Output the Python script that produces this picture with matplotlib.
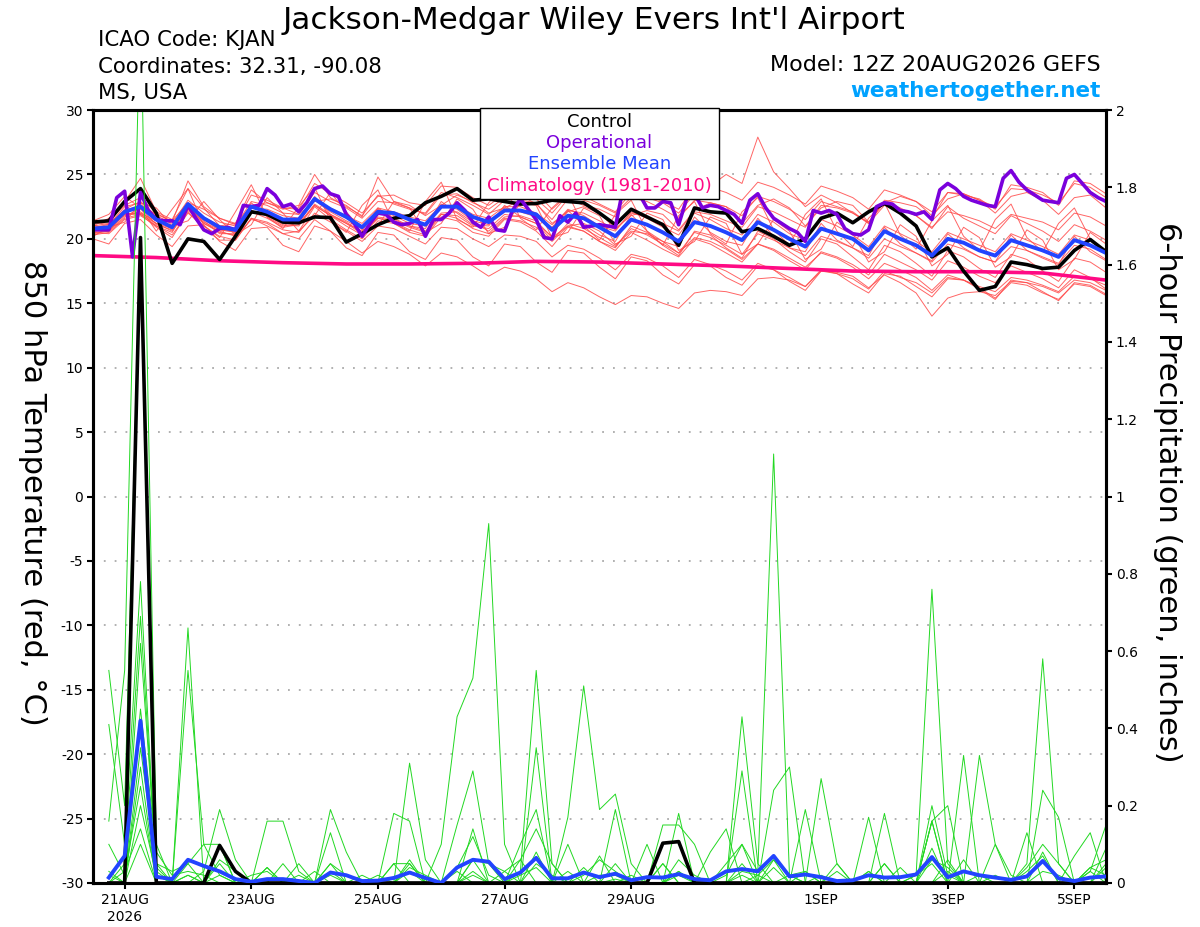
import numpy as np
import matplotlib
matplotlib.use("Agg")
import matplotlib.pyplot as plt
from matplotlib.patches import Rectangle

plt.rcParams['font.family'] = ['DejaVu Sans']
plt.rcParams['axes.unicode_minus'] = False

# 6-hourly times for the temperature lines, 3-hourly for the operational run
t0 = np.datetime64('2026-08-20T12:00')
t6 = t0 + np.arange(65) * np.timedelta64(6, 'h')
t3 = t0 + np.arange(129) * np.timedelta64(3, 'h')
tp = t6[1:]  # 6-hour precipitation totals start at 18Z
tclim = t0 + np.arange(17) * np.timedelta64(24, 'h')

# control run (black), 850 hPa temperature
control_t = [21.3, 21.4, 22.9, 23.9, 22.0, 18.1, 20.0, 19.8, 18.4, 20.2,
             22.1, 21.9, 21.3, 21.25, 21.7, 21.65, 19.75, 20.4, 21.1, 21.6,
             21.8, 22.8, 23.3, 23.9, 23.0, 23.1, 22.9, 22.7, 22.75, 23.0,
             22.9, 22.8, 22.0, 21.1, 22.3, 21.7, 21.1, 19.5, 22.4, 22.1,
             22.0, 20.55, 20.8, 20.2, 19.5, 20.0, 21.6, 22.0, 21.25, 22.1,
             22.75, 22.0, 21.0, 18.6, 19.3, 17.5, 16.0, 16.3, 18.2, 18.0,
             17.7, 17.8, 19.1, 19.95, 19.0]

# operational run (purple), 3-hourly
oper_t = [20.7, 20.7, 20.7, 23.2, 23.7, 18.6, 23.6, 22.2, 21.5, 21.4,
          21.4, 21.1, 22.6, 21.6, 20.7, 20.4, 20.8, 20.9, 20.7, 22.6,
          22.5, 22.6, 23.9, 23.4, 22.5, 22.7, 22.1, 22.8, 23.9, 24.1,
          23.5, 23.3, 21.9, 21.2, 20.2, 21.2, 22.0, 21.9, 21.3, 21.1,
          21.2, 21.5, 20.2, 21.5, 21.5, 22.0, 22.8, 22.2, 21.3, 20.9,
          21.7, 20.7, 20.6, 22.2, 23.1, 22.3, 21.5, 20.1, 20.0, 21.8,
          21.3, 22.0, 20.9, 21.0, 21.1, 21.0, 20.9, 24.0, 24.5, 23.5,
          22.4, 22.4, 22.9, 22.8, 21.1, 23.1, 23.5, 22.4, 22.6, 22.5,
          22.2, 21.9, 21.2, 23.0, 23.5, 22.4, 21.6, 21.2, 20.8, 20.5,
          19.8, 22.2, 22.0, 22.2, 21.9, 20.8, 20.4, 20.3, 20.7, 22.5,
          22.8, 22.7, 22.2, 22.1, 21.9, 22.1, 21.5, 23.8, 24.3, 23.9,
          23.3, 23.0, 22.8, 22.6, 22.5, 24.7, 25.3, 24.4, 23.8, 23.4,
          23.0, 22.9, 22.8, 24.7, 25.0, 24.3, 23.6, 23.2, 22.9]

# ensemble mean (blue)
mean_t = [20.8, 20.9, 22.1, 22.5, 21.5, 20.9, 22.7, 21.6, 20.9, 20.7,
          22.5, 22.1, 21.5, 21.5, 23.1, 22.3, 21.7, 20.9, 22.1, 22.0,
          21.5, 21.1, 22.5, 22.5, 21.7, 21.3, 22.2, 22.2, 21.9, 20.7,
          21.8, 21.6, 20.9, 20.2, 21.5, 21.1, 20.5, 19.8, 21.3, 21.0,
          20.5, 19.9, 21.3, 20.7, 20.0, 19.4, 20.8, 20.4, 20.0, 19.1,
          20.6, 20.0, 19.5, 18.7, 20.0, 19.7, 19.1, 18.7, 19.9, 19.5,
          19.1, 18.6, 19.9, 19.5, 18.9]

# climatology 1981-2010 (daily at 12Z)
clim_t = [18.7, 18.55, 18.3, 18.15, 18.05, 18.05, 18.1, 18.25, 18.2,
          18.05, 17.9, 17.7, 17.5, 17.45, 17.45, 17.35, 16.8]

# ensemble members, temperature (red)
members_t = [
    [21.2, 21.4, 22.6, 23.2, 22.0, 21.3, 24.5, 22.5, 21.6, 21.2, 23.4, 23.0, 22.4,
     22.3, 24.3, 23.5, 22.8, 22.0, 23.3, 23.4, 22.8, 22.6, 24.1, 24.0, 23.2, 22.6,
     23.5, 23.8, 23.6, 22.3, 23.4, 23.0, 22.6, 22.0, 23.2, 22.9, 22.3, 21.6, 23.0,
     22.8, 22.5, 21.8, 23.3, 22.9, 22.3, 21.5, 22.9, 22.5, 22.1, 21.2, 22.6, 22.3,
     21.8, 20.9, 22.1, 21.8, 21.4, 20.8, 21.9, 21.6, 21.3, 20.7, 22.0, 21.7, 21.0],
    [20.5, 20.4, 21.5, 21.8, 21.0, 20.3, 22.0, 21.0, 20.2, 19.9, 21.6, 21.3, 20.7,
     20.5, 22.0, 21.3, 20.6, 19.8, 21.0, 20.8, 20.2, 19.6, 20.9, 20.8, 20.0, 19.4,
     20.3, 20.2, 19.8, 18.6, 19.5, 19.2, 18.5, 17.6, 18.8, 18.5, 17.9, 17.0, 18.4,
     18.0, 17.5, 16.8, 18.1, 17.6, 17.0, 16.3, 17.6, 17.3, 16.9, 16.1, 17.5, 17.0,
     16.6, 15.8, 17.0, 16.8, 16.3, 15.9, 17.0, 16.8, 16.4, 15.9, 17.1, 16.9, 16.4],
    [20.3, 20.5, 21.6, 21.9, 21.2, 20.6, 22.2, 21.2, 20.6, 20.2, 21.5, 21.2, 20.4,
     20.0, 21.5, 20.6, 19.8, 18.9, 19.8, 19.4, 18.8, 17.9, 18.9, 18.6, 17.9, 17.1,
     17.8, 17.5, 16.9, 15.9, 16.6, 16.2, 15.5, 14.9, 15.6, 15.5, 15.0, 14.6, 15.8,
     16.0, 15.9, 15.6, 16.9, 17.0, 16.8, 16.3, 17.5, 17.4, 17.1, 16.2, 17.2, 16.6,
     15.8, 14.0, 15.4, 15.8, 15.9, 15.6, 16.7, 16.6, 16.3, 15.8, 16.8, 16.6, 16.0],
    [20.9, 21.1, 22.3, 22.9, 21.8, 21.2, 23.0, 22.0, 21.3, 21.0, 22.9, 22.6, 22.0,
     21.9, 23.6, 22.9, 22.4, 21.6, 22.9, 22.8, 22.4, 21.9, 23.4, 23.5, 22.8, 22.3,
     23.2, 23.3, 23.1, 22.0, 23.4, 23.3, 22.7, 22.1, 23.6, 23.4, 22.9, 22.3, 24.1,
     24.0, 23.6, 23.0, 24.4, 24.0, 23.4, 22.7, 24.1, 23.7, 23.2, 22.3, 23.8, 23.4,
     22.9, 22.1, 23.6, 23.5, 23.0, 22.5, 23.9, 23.8, 23.4, 22.8, 24.3, 24.0, 23.2],
    [21.0, 21.6, 22.9, 24.7, 22.1, 21.5, 23.9, 22.4, 21.0, 21.2, 23.8, 22.8, 22.3,
     22.6, 25.0, 23.2, 22.5, 21.8, 23.4, 22.7, 22.3, 22.0, 23.6, 23.2, 22.6, 21.9,
     23.0, 23.4, 22.7, 21.5, 23.1, 22.6, 22.3, 21.7, 24.9, 23.2, 22.8, 22.0, 23.5,
     24.1, 25.0, 24.3, 27.9, 25.2, 23.9, 22.5, 23.4, 22.8, 22.0, 21.3, 22.9, 22.4,
     21.8, 20.8, 22.5, 21.6, 21.0, 20.4, 21.8, 21.2, 20.6, 19.8, 21.1, 20.6, 19.9],
    [20.2, 20.9, 21.3, 22.8, 22.4, 21.0, 21.4, 22.9, 21.5, 20.3, 21.1, 23.2, 22.0,
     20.6, 21.8, 23.6, 22.1, 20.7, 21.0, 22.9, 22.4, 20.5, 21.2, 23.1, 22.3, 20.4,
     20.9, 22.8, 22.6, 20.1, 20.5, 22.4, 21.8, 19.6, 20.2, 22.0, 21.5, 19.1, 19.8,
     21.7, 21.2, 18.8, 19.6, 21.5, 20.6, 18.4, 19.2, 21.3, 20.4, 18.2, 19.0, 21.1,
     20.2, 17.9, 18.8, 20.9, 20.1, 17.8, 18.6, 20.7, 19.9, 17.6, 18.4, 20.5, 19.6],
    [21.1, 20.7, 21.9, 22.0, 21.0, 20.5, 22.6, 21.2, 20.5, 20.3, 22.8, 21.7, 21.0,
     21.2, 23.3, 21.9, 21.2, 20.6, 22.4, 21.6, 21.0, 20.8, 22.9, 22.0, 21.1, 21.0,
     22.6, 21.7, 21.2, 20.2, 22.2, 21.1, 20.3, 19.8, 21.9, 20.6, 19.8, 19.4, 21.7,
     20.5, 19.8, 19.5, 21.6, 20.2, 19.3, 19.0, 21.2, 19.9, 19.3, 18.7, 20.9, 19.6,
     18.9, 18.3, 20.4, 19.3, 18.6, 18.2, 20.3, 19.1, 18.5, 18.0, 20.2, 19.0, 18.3],
    [20.4, 20.6, 21.7, 22.4, 21.1, 20.7, 22.4, 21.4, 20.4, 20.4, 22.2, 21.8, 21.1,
     21.0, 22.6, 21.8, 21.0, 20.3, 21.6, 21.3, 20.7, 20.3, 21.9, 21.6, 20.8, 20.4,
     21.6, 21.4, 20.9, 19.8, 21.0, 20.6, 19.8, 19.1, 20.5, 19.9, 19.2, 18.6, 20.0,
     19.6, 18.9, 18.2, 19.6, 19.1, 18.3, 17.6, 19.0, 18.6, 18.0, 17.2, 18.8, 18.2,
     17.6, 16.8, 18.3, 17.8, 17.1, 16.6, 17.9, 17.4, 16.9, 16.2, 17.6, 17.0, 16.1],
    [21.4, 21.9, 23.3, 22.4, 20.6, 22.3, 23.9, 21.0, 20.1, 22.1, 24.2, 21.7, 20.8,
     22.5, 24.0, 21.4, 20.5, 22.6, 23.8, 21.2, 20.6, 22.9, 24.4, 21.5, 20.9, 22.8,
     24.1, 21.6, 20.7, 22.4, 23.5, 21.0, 19.9, 21.9, 23.0, 20.6, 19.5, 21.8, 22.9,
     20.4, 19.6, 22.1, 23.2, 20.7, 19.5, 21.9, 23.1, 20.6, 19.4, 21.6, 22.8, 20.3,
     19.2, 21.4, 22.6, 20.2, 19.1, 21.5, 22.7, 20.1, 19.0, 21.2, 22.4, 20.0, 18.8],
    [20.0, 19.6, 21.2, 21.5, 20.3, 19.4, 21.0, 21.1, 19.8, 19.1, 20.8, 20.9, 19.5,
     19.0, 21.0, 20.6, 19.3, 18.7, 20.5, 20.3, 19.0, 18.4, 20.1, 19.9, 18.6, 17.9,
     19.6, 19.4, 18.2, 17.4, 19.1, 18.9, 17.8, 16.9, 18.6, 18.3, 17.2, 16.5, 18.0,
     17.9, 17.0, 16.4, 17.9, 17.6, 16.7, 16.0, 17.5, 17.3, 16.5, 15.8, 17.3, 17.1,
     16.3, 15.5, 16.9, 16.8, 16.1, 15.3, 16.8, 16.6, 15.9, 15.2, 16.6, 16.4, 15.7],
    [21.0, 21.2, 22.2, 22.6, 21.9, 21.4, 22.8, 22.3, 21.6, 21.1, 22.6, 22.8, 22.4,
     21.9, 22.9, 23.1, 22.6, 21.7, 24.8, 22.9, 22.6, 21.8, 22.6, 23.4, 22.9, 22.0,
     22.4, 23.0, 22.8, 21.2, 22.1, 22.5, 22.0, 20.8, 21.8, 22.2, 21.9, 20.7, 22.2,
     22.8, 22.5, 21.2, 22.6, 23.1, 22.4, 21.0, 22.4, 22.9, 22.6, 21.3, 22.8, 23.3,
     22.9, 21.8, 23.1, 23.5, 23.0, 22.0, 23.3, 23.6, 23.0, 21.9, 23.2, 23.4, 22.4],
    [20.6, 20.7, 22.0, 21.9, 20.9, 20.1, 22.1, 20.8, 19.9, 19.9, 21.6, 21.0, 20.4,
     20.6, 22.5, 21.5, 20.7, 20.0, 21.4, 21.2, 20.5, 20.2, 21.7, 21.4, 20.5, 20.2,
     21.5, 21.3, 20.6, 19.4, 20.9, 20.6, 19.8, 19.3, 21.0, 20.5, 19.5, 18.7, 20.6,
     20.3, 19.3, 18.5, 20.6, 20.0, 19.0, 18.2, 20.0, 19.6, 18.6, 17.6, 19.5, 19.0,
     18.1, 17.1, 19.1, 18.6, 17.7, 17.0, 18.8, 18.4, 17.5, 16.7, 18.5, 18.2, 17.4],
    [20.8, 21.0, 21.8, 22.0, 21.4, 21.0, 22.3, 21.3, 20.7, 20.5, 22.1, 21.6, 20.9,
     21.1, 22.7, 21.9, 21.3, 20.5, 21.7, 21.5, 21.0, 20.6, 22.0, 22.1, 21.3, 20.6,
     21.7, 21.8, 21.4, 20.1, 21.0, 21.2, 20.6, 19.5, 20.6, 20.4, 19.8, 18.9, 20.1,
     19.8, 19.2, 18.4, 19.6, 19.2, 18.5, 17.8, 18.9, 18.5, 17.8, 16.9, 18.1, 17.6,
     17.0, 16.0, 17.2, 16.8, 16.2, 15.4, 16.6, 16.4, 15.8, 15.3, 16.5, 16.3, 15.6],
    [21.3, 21.1, 22.5, 22.8, 21.4, 20.8, 22.8, 21.5, 20.7, 20.6, 22.6, 22.0, 21.4,
     21.3, 23.0, 22.1, 21.4, 20.8, 22.3, 21.8, 21.2, 21.0, 22.7, 22.3, 21.4, 21.1,
     22.4, 22.1, 21.7, 20.9, 22.3, 21.8, 21.0, 20.6, 22.1, 21.6, 20.9, 20.3, 22.0,
     21.5, 20.8, 20.3, 21.9, 21.3, 20.4, 19.9, 21.5, 21.0, 20.3, 19.4, 21.0, 20.4,
     19.8, 19.0, 20.5, 20.0, 19.5, 19.0, 20.4, 19.9, 19.4, 18.8, 20.3, 19.9, 19.1],
    [20.6, 20.8, 22.2, 22.3, 21.6, 21.0, 22.6, 21.7, 21.0, 20.8, 22.4, 22.3, 21.8,
     21.6, 23.0, 22.4, 21.8, 21.2, 22.4, 22.1, 21.7, 21.4, 22.6, 22.6, 21.9, 21.6,
     22.5, 22.5, 22.0, 21.1, 22.2, 22.0, 21.4, 20.7, 22.0, 21.7, 21.2, 20.6, 22.1,
     21.9, 21.4, 20.9, 22.5, 22.1, 21.5, 20.9, 22.6, 22.4, 22.0, 21.2, 23.0, 22.8,
     22.5, 21.6, 23.6, 23.4, 23.1, 22.3, 24.2, 24.0, 23.6, 22.6, 24.5, 24.3, 23.5],
    [20.5, 20.6, 21.9, 22.1, 21.2, 20.8, 22.4, 21.5, 20.9, 20.5, 22.0, 21.9, 21.3,
     21.2, 22.6, 21.8, 21.2, 20.4, 21.6, 21.4, 20.9, 20.5, 21.9, 21.8, 21.0, 20.8,
     21.9, 21.7, 21.2, 19.9, 21.2, 20.8, 20.1, 19.4, 20.8, 20.3, 19.6, 18.9, 20.5,
     20.1, 19.5, 18.8, 20.4, 19.9, 19.3, 18.7, 20.2, 19.8, 19.3, 18.5, 20.0, 19.4,
     18.9, 18.2, 19.6, 19.2, 18.6, 18.2, 19.4, 19.1, 18.6, 18.1, 19.5, 19.2, 18.4],
]

# 6-hour precipitation (inches), 20AUG 18Z .. 5SEP 12Z
control_p = [0, 0, 1.67, 0, 0, 0, 0, 0.097, 0.03, 0,
             0, 0, 0, 0, 0, 0, 0, 0, 0, 0,
             0, 0, 0, 0, 0, 0, 0, 0, 0, 0,
             0, 0, 0, 0, 0, 0.103, 0.107, 0, 0, 0,
             0, 0, 0, 0, 0, 0, 0, 0, 0, 0,
             0, 0, 0, 0, 0, 0, 0, 0, 0, 0,
             0, 0, 0, 0]

mean_p = [0.014, 0.07, 0.42, 0.016, 0.01, 0.06, 0.044, 0.03, 0.01, 0.003,
          0.01, 0.01, 0.005, 0.0, 0.027, 0.02, 0.005, 0.006, 0.013, 0.027,
          0.013, 0.0, 0.04, 0.06, 0.055, 0.01, 0.027, 0.065, 0.012, 0.012,
          0.027, 0.015, 0.024, 0.007, 0.015, 0.014, 0.023, 0.01, 0.007, 0.03,
          0.036, 0.03, 0.07, 0.017, 0.022, 0.015, 0.005, 0.007, 0.02, 0.014,
          0.015, 0.022, 0.067, 0.015, 0.03, 0.02, 0.014, 0.008, 0.017, 0.057,
          0.012, 0.005, 0.014, 0.017]

members_p = [
    [0.16, 0.55, 2.30, 0.10, 0, 0.02, 0, 0, 0, 0, 0, 0, 0, 0, 0.02, 0, 0, 0, 0,
     0, 0, 0.10, 0.43, 0.53, 0.93, 0.10, 0, 0, 0, 0, 0, 0, 0.01, 0, 0, 0, 0, 0, 0,
     0.02, 0.10, 0.03, 1.11, 0.02, 0, 0, 0, 0, 0, 0, 0, 0.02, 0.76, 0.05, 0, 0, 0,
     0, 0.05, 0.58, 0.05, 0, 0, 0],
    [0.55, 0.20, 1.67, 0.05, 0, 0.55, 0.10, 0.02, 0, 0, 0, 0, 0, 0, 0, 0, 0, 0, 0,
     0, 0, 0, 0, 0, 0, 0, 0.03, 0.55, 0.05, 0, 0, 0, 0, 0, 0, 0, 0, 0, 0,
     0, 0.43, 0.05, 0, 0, 0, 0, 0, 0, 0, 0, 0, 0, 0.20, 0.02, 0, 0.33, 0.10, 0,
     0, 0, 0, 0, 0.03, 0.15],
    [0.41, 0.10, 0.78, 0.02, 0, 0.66, 0, 0, 0, 0, 0, 0, 0, 0, 0.19, 0.08, 0, 0, 0,
     0.31, 0.06, 0, 0, 0, 0, 0, 0, 0, 0, 0.17, 0.51, 0.19, 0.23, 0.05, 0, 0, 0, 0, 0,
     0, 0, 0, 0.24, 0.30, 0, 0, 0, 0, 0, 0, 0, 0, 0, 0, 0.33, 0, 0, 0,
     0, 0.24, 0.17, 0, 0, 0],
    [0, 0.05, 0.69, 0.03, 0, 0, 0.03, 0.19, 0.06, 0, 0.16, 0.16, 0.03, 0, 0, 0, 0, 0,
     0, 0, 0, 0, 0.15, 0.29, 0.05, 0, 0, 0.35, 0, 0, 0, 0, 0.19, 0, 0.10, 0, 0.18, 0,
     0, 0, 0, 0, 0, 0, 0.19, 0, 0, 0, 0.17, 0, 0, 0, 0.16, 0.20, 0, 0, 0, 0,
     0, 0, 0, 0.07, 0.13, 0],
    [0, 0, 0.62, 0.05, 0.03, 0.05, 0.10, 0.10, 0, 0, 0, 0.05, 0, 0, 0.13, 0, 0, 0,
     0.18, 0.16, 0, 0, 0, 0.14, 0, 0, 0.10, 0.19, 0, 0.10, 0, 0.07, 0, 0, 0, 0.15,
     0.15, 0.10, 0, 0, 0.29, 0, 0, 0, 0, 0.27, 0.05, 0, 0, 0.18, 0, 0, 0, 0, 0, 0,
     0, 0, 0.13, 0, 0, 0, 0, 0.05],
    [0.02, 0, 0.30, 0, 0, 0, 0, 0.06, 0.03, 0, 0.04, 0, 0, 0, 0.05, 0, 0, 0, 0.05,
     0.05, 0, 0, 0, 0.06, 0.05, 0.03, 0.06, 0.14, 0.05, 0, 0, 0, 0, 0, 0, 0.05, 0, 0,
     0.08, 0.14, 0, 0, 0, 0, 0, 0, 0.05, 0, 0, 0, 0, 0, 0.16, 0, 0, 0, 0, 0, 0,
     0, 0, 0, 0, 0],
    [0, 0, 0.20, 0.02, 0, 0, 0, 0, 0, 0, 0, 0, 0.05, 0, 0, 0, 0.02, 0, 0.05, 0,
     0, 0, 0, 0, 0, 0, 0, 0, 0, 0, 0, 0, 0, 0, 0, 0.05, 0, 0, 0, 0, 0, 0, 0, 0,
     0, 0, 0, 0, 0.03, 0, 0, 0, 0.16, 0, 0.06, 0, 0, 0, 0, 0, 0, 0, 0, 0],
    [0, 0.03, 0.14, 0, 0, 0, 0, 0.10, 0, 0, 0.04, 0, 0, 0, 0, 0, 0, 0, 0, 0.05, 0,
     0, 0, 0.06, 0, 0.03, 0, 0, 0, 0, 0, 0, 0, 0, 0, 0, 0.02, 0, 0, 0, 0.05, 0, 0,
     0, 0, 0, 0, 0, 0, 0.05, 0, 0, 0, 0.03, 0, 0, 0.10, 0.02, 0, 0, 0, 0, 0, 0.04],
    [0, 0, 0.10, 0, 0, 0.05, 0, 0, 0, 0.02, 0.03, 0, 0, 0.03, 0, 0,
     0, 0.02, 0, 0.06, 0, 0, 0.03, 0, 0, 0, 0.06, 0, 0, 0.03, 0, 0,
     0.05, 0, 0, 0, 0.06, 0.02, 0, 0, 0.02, 0, 0.04, 0, 0, 0.02, 0, 0,
     0, 0.05, 0, 0, 0, 0.06, 0, 0, 0.02, 0, 0, 0.08, 0, 0, 0.03, 0],
    [0.10, 0.02, 0.25, 0, 0, 0.02, 0, 0.05, 0, 0, 0, 0, 0, 0, 0.03, 0,
     0, 0, 0, 0.04, 0.02, 0, 0, 0.02, 0, 0, 0, 0.08, 0, 0, 0.04, 0,
     0, 0.02, 0, 0, 0.03, 0, 0, 0.05, 0.10, 0, 0.06, 0.02, 0, 0, 0.03, 0,
     0, 0, 0.04, 0, 0.06, 0.04, 0, 0.02, 0, 0, 0.03, 0.07, 0, 0, 0, 0.09],
    [0, 0, 0.45, 0.08, 0.02, 0.03, 0.02, 0, 0, 0, 0, 0, 0.02, 0, 0, 0,
     0, 0, 0, 0, 0, 0, 0.04, 0.12, 0.02, 0, 0, 0.05, 0.02, 0, 0.02, 0.06,
     0.03, 0, 0, 0, 0, 0, 0, 0, 0, 0.02, 0.06, 0, 0.03, 0, 0, 0,
     0, 0, 0, 0, 0.09, 0, 0, 0, 0, 0, 0.04, 0.10, 0.05, 0, 0.04, 0.02],
    [0.03, 0, 0.35, 0.04, 0, 0, 0, 0.02, 0, 0, 0, 0, 0, 0, 0.05, 0.02,
     0, 0, 0, 0.03, 0, 0, 0, 0.03, 0, 0, 0.02, 0.04, 0, 0, 0, 0.02,
     0.02, 0, 0, 0, 0.03, 0, 0, 0, 0.03, 0.02, 0, 0.02, 0.03, 0, 0, 0,
     0.03, 0, 0, 0.02, 0.05, 0, 0, 0, 0, 0, 0, 0.03, 0.02, 0, 0.04, 0.06],
]

xtick_days = np.array(['2026-08-21', '2026-08-23', '2026-08-25', '2026-08-27',
                       '2026-08-29', '2026-09-01', '2026-09-03', '2026-09-05'],
                      dtype='datetime64[m]')
xtick_labels = ['21AUG\n2026', '23AUG', '25AUG', '27AUG', '29AUG', '1SEP', '3SEP', '5SEP']

fig = plt.figure(figsize=(12, 9.27), dpi=100)
ax = fig.add_axes([0.0775, 0.0475, 0.8442, 0.8338])
ax2 = ax.twinx()

for m in members_t:
    ax.plot(t6, m, color='#ff4a4a', lw=0.7, alpha=0.85, zorder=2)
ax.plot(tclim, clim_t, color='#ff0a84', lw=2.6, zorder=3)
ax.plot(t6, control_t, color='black', lw=2.6, zorder=4)
ax.plot(t3, oper_t, color='#7a00dc', lw=2.6, zorder=5)
ax.plot(t6, mean_t, color='#2244ff', lw=2.8, zorder=6)

for m in members_p:
    ax2.plot(tp, m, color='#22d822', lw=0.7, zorder=2)
ax2.plot(tp, control_p, color='black', lw=2.6, zorder=3)
ax2.plot(tp, mean_p, color='#2244ff', lw=2.8, zorder=4)

ax.set_xlim(t6[0], t6[-1])
ax.set_ylim(-30, 30)
ax2.set_ylim(0, 2)
ax.set_yticks(range(-30, 31, 5))
ax2.set_yticks(np.arange(0, 2.01, 0.2))
ax2.set_yticklabels(['0', '0.2', '0.4', '0.6', '0.8', '1', '1.2', '1.4', '1.6', '1.8', '2'])
ax.set_xticks(xtick_days)
ax.set_xticklabels(xtick_labels)

ax.yaxis.grid(True, linestyle=(0, (1, 5)), color='#aaaaaa', lw=1.3)
ax.set_axisbelow(True)
ax.tick_params(axis='x', length=4.5, width=1.5, labelsize=10, pad=3)
ax.tick_params(axis='y', length=4.5, width=1.5, labelsize=10, pad=2.5)
ax2.tick_params(axis='y', length=4.5, width=1.5, labelsize=10, pad=2.5)
for a in (ax, ax2):
    for s in a.spines.values():
        s.set_linewidth(2.2)

ax.set_ylabel("850 hPa Temperature (red, °C)", fontsize=22, rotation=270, va='center')
ax.yaxis.set_label_coords(-0.060, 0.505)
ax2.set_ylabel("6-hour Precipitation (green, inches)", fontsize=22, rotation=270, va='center')
ax2.yaxis.set_label_coords(1.061, 0.505)

# legend box
ax2.add_patch(Rectangle((0.382, 0.885), 0.236, 0.118, transform=ax2.transAxes,
                        facecolor='white', edgecolor='black', lw=1.0,
                        zorder=10, clip_on=False))
leg = [("Control", 'black'), ("Operational", '#7a00dc'),
       ("Ensemble Mean", '#2244ff'), ("Climatology (1981-2010)", '#ff0a84')]
for k, (txt, col) in enumerate(leg):
    ax2.text(0.5, 0.985 - k * 0.0277, txt, color=col, fontsize=13,
             ha='center', va='center', transform=ax2.transAxes, zorder=11)

fig.text(0.495, 0.9684, "Jackson-Medgar Wiley Evers Int'l Airport", fontsize=22.4,
         ha='center', va='baseline')
fig.text(0.0817, 0.9507, "ICAO Code: KJAN", fontsize=15.3, ha='left', va='baseline')
fig.text(0.0817, 0.9216, "Coordinates: 32.31, -90.08", fontsize=15.3, ha='left', va='baseline')
fig.text(0.0817, 0.8929, "MS, USA", fontsize=15.3, ha='left', va='baseline')
fig.text(0.9175, 0.9234, "Model: 12Z 20AUG2026 GEFS", fontsize=16, ha='right', va='baseline')
fig.text(0.9175, 0.8957, "weathertogether.net", fontsize=15.5, fontweight='bold',
         color='#00a2ff', ha='right', va='baseline')

fig.savefig("out.png", dpi=100)
